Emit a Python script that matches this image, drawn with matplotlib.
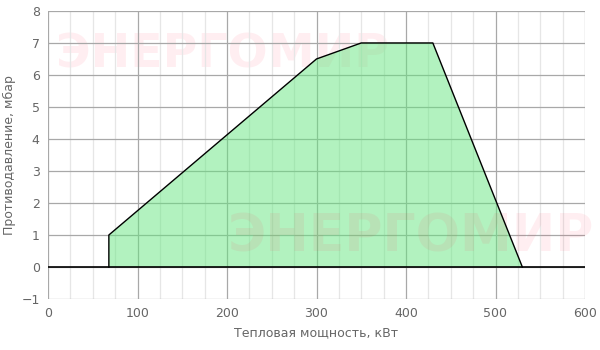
import numpy as np
import matplotlib
matplotlib.use('Agg')
import matplotlib.pyplot as plt
from matplotlib.ticker import MultipleLocator

# рабочее поле горелки
power = [68, 68, 300, 350, 430, 530]
pressure = [0, 1, 6.5, 7, 7, 0]

x_ticks = [0, 100, 200, 300, 400, 500, 600]
y_ticks = [-1, 0, 1, 2, 3, 4, 5, 6, 7, 8]

fig = plt.figure(figsize=(6, 3.5), dpi=100)
ax = fig.add_axes([0.08, 0.1457, 0.895, 0.823])

ax.set_xlim(0, 600)
ax.set_ylim(-1, 8)
ax.set_xticks(x_ticks)
ax.set_yticks(y_ticks)
ax.xaxis.set_minor_locator(MultipleLocator(25))
ax.set_axisbelow(True)
ax.grid(True, which='major', color='#a8a8a8', linewidth=0.9)
ax.grid(True, which='minor', axis='x', color='#e6e6e6', linewidth=0.9)
for s in ax.spines.values():
    s.set_visible(False)
ax.tick_params(which='both', length=0, colors='#666666', labelsize=9, pad=6)

# водяные знаки
ax.text(0.015, 0.847, 'ЭНЕРГОМИР', transform=ax.transAxes, fontsize=34,
        fontweight='bold', color='#ff3050', alpha=0.08, va='center', ha='left', zorder=0.2)
ax.text(0.335, 0.215, 'ЭНЕРГОМИР', transform=ax.transAxes, fontsize=37.5,
        fontweight='bold', color='#ff3050', alpha=0.08, va='center', ha='left', zorder=3)

ax.fill(power, pressure, facecolor='#66e680', alpha=0.5, edgecolor='none', zorder=2)
ax.plot(power, pressure, color='black', linewidth=1, zorder=4)
ax.axhline(0, color='black', linewidth=1.2, zorder=4)

ax.set_xlabel('Тепловая мощность, кВт', color='#666666', fontsize=9)
ax.set_ylabel('Противодавление, мбар', color='#666666', fontsize=9)

fig.savefig('out.png', dpi=100)
